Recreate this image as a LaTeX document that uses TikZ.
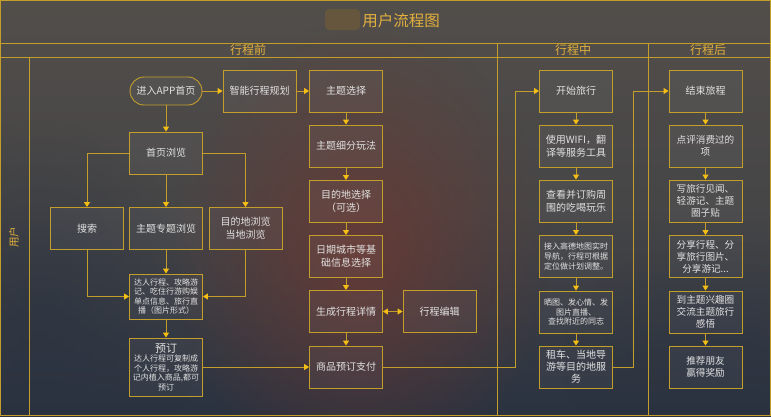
\documentclass[tikz,border=0pt]{standalone}
\usepackage{fontspec}
\setmainfont{Noto Sans CJK SC}
\usetikzlibrary{arrows.meta,fadings}
\definecolor{gold}{RGB}{196,158,42}
\definecolor{tipgold}{RGB}{245,190,20}
\definecolor{txt}{RGB}{226,226,226}
\definecolor{hdr}{RGB}{226,176,62}
\definecolor{bgtop}{RGB}{82,78,74}
\definecolor{bgbot}{RGB}{42,50,64}
\definecolor{reddish}{RGB}{112,56,48}
\definecolor{blob}{RGB}{104,88,60}
\tikzfading[name=softfade,inner color=transparent!0,outer color=transparent!100]
\begin{document}
\begin{tikzpicture}[x=1pt,y=-1pt,
  box/.style={draw=gold,line width=0.9pt,fill=white,fill opacity=0.04,text opacity=1,
    minimum width=73pt,minimum height=42pt,align=center,text=txt,inner sep=1pt,
    font=\fontsize{10}{13}\selectfont},
  small/.style={font=\fontsize{8}{9.6}\selectfont},
  mid/.style={font=\fontsize{9.6}{12}\selectfont},
  frame/.style={draw=gold,line width=0.9pt},
  conn/.style={draw=gold,line width=0.9pt,-{Triangle[width=6pt,length=5pt,color=tipgold]}},
  biconn/.style={draw=gold,line width=0.9pt,{Triangle[width=6pt,length=5pt,color=tipgold]}-{Triangle[width=6pt,length=5pt,color=tipgold]}},
  hdrtext/.style={text=hdr,inner sep=0pt},
]
\useasboundingbox (0,0) rectangle (771,416);
% background
\shade[top color=bgtop,bottom color=bgbot,middle color=bgtop!70!bgbot] (0,0) rectangle (771,416);
\fill[reddish,opacity=0.75,path fading=softfade] (360,250) ellipse (190pt and 230pt);
\fill[bgbot,opacity=0.6,path fading=softfade] (40,320) ellipse (160pt and 200pt);
\fill[bgbot,opacity=0.4,path fading=softfade] (720,360) ellipse (160pt and 120pt);
% title blob
\fill[blob,rounded corners=4pt,opacity=0.9] (325,9) rectangle (360,30);
% frame
\draw[frame] (0.5,0.5) rectangle (770.5,415.5);
\draw[frame] (0,43) -- (771,43);
\draw[frame] (0,57) -- (771,57);
\draw[frame] (29,57) -- (29,416);
\draw[frame] (497,43) -- (497,416);
\draw[frame] (648,43) -- (648,416);
% titles
\node[hdrtext,font=\fontsize{15.5}{17}\selectfont] (title) at (401,21) {用户流程图};
\node[hdrtext,font=\fontsize{12}{13}\selectfont] (h1) at (248,50) {行程前};
\node[hdrtext,font=\fontsize{12}{13}\selectfont] (h2) at (573,50) {行程中};
\node[hdrtext,font=\fontsize{12}{13}\selectfont] (h3) at (708,50) {行程后};
\node[hdrtext,rotate=90,font=\fontsize{10.5}{11}\selectfont] (lane) at (14,237) {用户};
% before trip
\node[box,rounded corners=14pt,minimum width=72pt,minimum height=28pt] (app) at (166,91) {进入APP首页};
\node[box] (plan) at (259.5,91) {智能行程规划};
\node[box] (theme) at (346,91) {主题选择};
\node[box] (home) at (166,153) {首页浏览};
\node[box] (search) at (87,228.5) {搜索};
\node[box] (topic) at (166,228.5) {主题专题浏览};
\node[box] (dest) at (245.5,228.5) {目的地浏览\\当地浏览};
\node[box,small,minimum height=45pt] (daren) at (166,296.5) {达人行程、攻略游\\记、吃住行游购娱\\单点信息、旅行直\\播（图片形式）};
\node[box,small,minimum height=58pt] (book) at (166,367) {{\fontsize{11}{12}\selectfont 预订}\\达人行程可复制成\\个人行程，攻略游\\记内植入商品,都可\\预订};
\node[box] (sub) at (346,146) {主题细分玩法};
\node[box] (dsel) at (346,201.5) {目的地选择\\（可选）};
\node[box] (date) at (346,256.5) {日期城市等基\\础信息选择};
\node[box] (gen) at (346,311.5) {生成行程详情};
\node[box] (edit) at (439.5,311.5) {行程编辑};
\node[box] (pay) at (346,367) {商品预订支付};
% during trip
\node[box] (start) at (576,91) {开始旅行};
\node[box] (wifi) at (576,146) {使用WIFI，翻\\译等服务工具};
\node[box] (around) at (576,201) {查看并订购周\\围的吃喝玩乐};
\node[box,small] (nav) at (576,256.5) {接入高德地图实时\\导航，行程可根据\\定位做计划调整。};
\node[box,small] (post) at (576,312) {晒图、发心情、发\\图片直播、\\查找附近的同志};
\node[box,font=\fontsize{10}{12}\selectfont] (car) at (576,367) {租车、当地导\\游等目的地服\\务};
% after trip
\node[box] (end) at (705.5,91) {结束旅程};
\node[box,mid] (rev) at (705.5,146) {点评消费过的\\项};
\node[box,mid] (write) at (705.5,201) {写旅行见闻、\\轻游记、主题\\圈子贴};
\node[box,mid] (sharep) at (705.5,256.5) {分享行程、分\\享旅行图片、\\分享游记...};
\node[box,mid] (circ) at (705.5,312) {到主题兴趣圈\\交流主题旅行\\感悟};
\node[box,mid] (rec) at (705.5,367) {推荐朋友\\赢得奖励};
% helper coordinates
\coordinate (c1) at (515,367);
\coordinate (c2) at (633,367);
% connectors
\draw[conn] (app) -- (plan);
\draw[conn] (plan) -- (theme);
\draw[conn] (app) -- (home);
\draw[conn] (home.west) -| (search.north);
\draw[conn] (home.east) -| (dest.north);
\draw[conn] (home) -- (topic);
\draw[conn] (topic) -- (daren);
\draw[conn] (search.south) |- (daren.west);
\draw[conn] (dest.south) |- (daren.east);
\draw[conn] (daren) -- (book);
\draw[conn] (book) -- (pay);
\draw[conn] (theme) -- (sub);
\draw[conn] (sub) -- (dsel);
\draw[conn] (dsel) -- (date);
\draw[conn] (date) -- (gen);
\draw[conn] (gen) -- (pay);
\draw[biconn] (gen) -- (edit);
\draw[conn] (pay.east) -- (c1) |- (start.west);
\draw[conn] (start) -- (wifi);
\draw[conn] (wifi) -- (around);
\draw[conn] (around) -- (nav);
\draw[conn] (nav) -- (post);
\draw[conn] (post) -- (car);
\draw[conn] (car.east) -- (c2) |- (end.west);
\draw[conn] (end) -- (rev);
\draw[conn] (rev) -- (write);
\draw[conn] (write) -- (sharep);
\draw[conn] (sharep) -- (circ);
\draw[conn] (circ) -- (rec);
\end{tikzpicture}
\end{document}
